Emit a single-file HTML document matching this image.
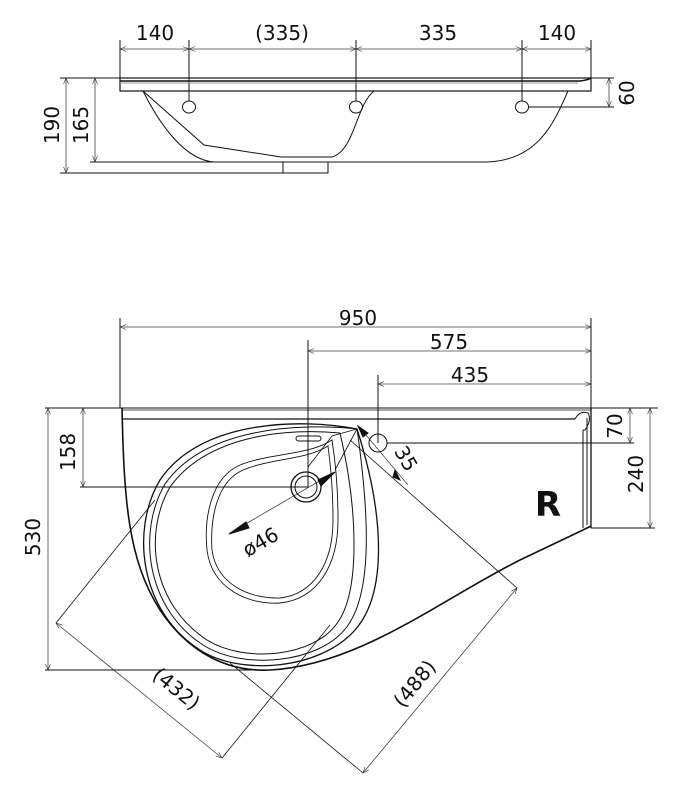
<!DOCTYPE html>
<html><head><meta charset="utf-8"><style>
html,body{margin:0;padding:0;background:#fff}
svg{display:block}
text{font-family:"DejaVu Sans","Liberation Sans",sans-serif;fill:#111}
</style></head><body>
<svg width="677" height="800" viewBox="0 0 677 800" xmlns="http://www.w3.org/2000/svg">
<defs>
<marker id="a" viewBox="0 0 10 10" refX="10" refY="5" markerWidth="8" markerHeight="6" orient="auto-start-reverse" markerUnits="userSpaceOnUse">
<path d="M0,1 L10,5 L0,9" fill="none" stroke="#333" stroke-width="1"/></marker>
</defs>
<g fill="none" stroke="#111" stroke-width="1">
<line x1="120" y1="40" x2="120" y2="91"/>
<line x1="189" y1="40" x2="189" y2="101"/>
<line x1="356" y1="40" x2="356" y2="101"/>
<line x1="522" y1="40" x2="522" y2="101"/>
<line x1="591" y1="40" x2="591" y2="91"/>
<g stroke="#444" stroke-width="0.8">
<line x1="120" y1="49" x2="189" y2="49" marker-start="url(#a)" marker-end="url(#a)"/>
<line x1="189" y1="49" x2="356" y2="49" marker-start="url(#a)" marker-end="url(#a)"/>
<line x1="356" y1="49" x2="522" y2="49" marker-start="url(#a)" marker-end="url(#a)"/>
<line x1="522" y1="49" x2="591" y2="49" marker-start="url(#a)" marker-end="url(#a)"/>
<line x1="66" y1="78" x2="66" y2="173" marker-start="url(#a)" marker-end="url(#a)"/>
<line x1="95" y1="78" x2="95" y2="162" marker-start="url(#a)" marker-end="url(#a)"/>
<line x1="609" y1="78" x2="609" y2="107" marker-start="url(#a)" marker-end="url(#a)"/>
</g>
<line x1="60" y1="78" x2="120" y2="78"/>
<line x1="591" y1="78" x2="614" y2="78"/>
<rect x="120" y="78" width="471" height="13" stroke-width="1.2"/>
<path d="M120,81 L580,81 Q588,80 591,78" stroke-width="1.5"/>
<path d="M120,83 L578,83" stroke="#999"/>
<line x1="90" y1="162" x2="283" y2="162"/>
<line x1="328" y1="162" x2="487" y2="162"/>
<line x1="60" y1="173" x2="283" y2="173"/>
<rect x="283" y="162" width="45" height="11"/>
<path d="M143,91 C160,125 185,160 214,162"/>
<path d="M143,91 L204,145 L281,157 L332,157 C355,150 356,105 374,91"/>
<path d="M487,162 C540,160 555,120 568,91"/>
<ellipse cx="189" cy="107" rx="6.5" ry="6"/>
<ellipse cx="356" cy="107" rx="6.5" ry="6"/>
<ellipse cx="522" cy="107" rx="6.5" ry="6"/>
<line x1="528" y1="107" x2="614" y2="107"/>

<line x1="120" y1="318" x2="120" y2="408"/>
<line x1="308" y1="340" x2="308" y2="487"/>
<line x1="378" y1="375" x2="378" y2="443"/>
<line x1="591" y1="318" x2="591" y2="408"/>
<g stroke="#444" stroke-width="0.8">
<line x1="120" y1="327" x2="591" y2="327" marker-start="url(#a)" marker-end="url(#a)"/>
<line x1="308" y1="351" x2="591" y2="351" marker-start="url(#a)" marker-end="url(#a)"/>
<line x1="378" y1="384" x2="591" y2="384" marker-start="url(#a)" marker-end="url(#a)"/>
<line x1="48" y1="408" x2="48" y2="670" marker-start="url(#a)" marker-end="url(#a)"/>
<line x1="83" y1="408" x2="83" y2="487" marker-start="url(#a)" marker-end="url(#a)"/>
<line x1="630" y1="408" x2="630" y2="443" marker-start="url(#a)" marker-end="url(#a)"/>
<line x1="650" y1="408" x2="650" y2="528" marker-start="url(#a)" marker-end="url(#a)"/>
<line x1="56" y1="623" x2="222" y2="758" marker-start="url(#a)" marker-end="url(#a)"/>
<line x1="363" y1="773" x2="517" y2="588" marker-start="url(#a)" marker-end="url(#a)"/>
<line x1="230" y1="533" x2="335" y2="472"/>
<line x1="360" y1="428" x2="408" y2="485"/>
</g>
<line x1="45" y1="408" x2="658" y2="408"/>
<line x1="80" y1="487" x2="308" y2="487"/>
<line x1="45" y1="670" x2="270" y2="670"/>
<line x1="387" y1="443" x2="634" y2="443"/>
<line x1="591" y1="528" x2="655" y2="528"/>
<line x1="56" y1="623" x2="155" y2="500" stroke-width="0.8"/>
<line x1="222" y1="758" x2="330" y2="625" stroke-width="0.8"/>
<line x1="363" y1="773" x2="230" y2="663" stroke-width="0.8"/>
<line x1="517" y1="588" x2="350" y2="440" stroke-width="0.8"/>
<path d="M229,534 L246,522 L249,528 Z" fill="#111"/>
<path d="M335,472 L318,480 L321,486 Z" fill="#111"/>
<path d="M358,426 L368,433 L363,437 Z" fill="#111"/>
<path d="M395,470 L400,480 L393,477 Z" fill="#111"/>
<line x1="122" y1="419" x2="575" y2="419" stroke-width="1.3"/>
<line x1="122" y1="410" x2="591" y2="410" stroke-width="0.8"/>
<path d="M575,419 Q580,410 588,413 Q592,420 585,430 L583,430" stroke-width="1"/>
<line x1="583" y1="430" x2="583" y2="528"/>
<line x1="587" y1="418" x2="587" y2="525"/>
<line x1="591" y1="408" x2="591" y2="528" stroke-width="1.3"/>
<path d="M122,408 C124,500 128,560 160,610 C190,655 230,672 270,670 C360,665 440,600 520,560 L583,530 L591,526" stroke-width="1.6"/>
<path d="M357,429 C300,418 200,420 160,480 C130,530 140,612 200,650 C240,676 320,670 355,630 C386,595 386,520 357,429 Z" stroke-width="1.3"/>
<path d="M357,429 C300,423 205,427 165,484 C137,532 146,608 203,645 C242,670 318,664 346,628 C372,595 370,520 357,429"/>
<path d="M340,433 C290,428 208,434 170,487 C143,534 152,604 207,640 C244,663 314,658 338,622 C360,590 358,510 340,433"/>
<path d="M332,440 C310,455 270,453 240,465 C210,478 204,520 207,550 C212,590 250,605 280,603 C318,599 338,565 338,520 C338,490 336,465 332,440 Z" stroke-width="0.9"/>
<path d="M328,446 C306,460 272,458 243,470 C216,482 210,520 212,550 C217,586 252,599 280,598 C314,594 333,563 333,520 C333,492 331,468 328,446 Z" stroke-width="0.9"/>
<path d="M357,429 L332,436 L308,467 M357,429 L335,470" stroke-width="0.8"/>
<rect x="296" y="436" width="25" height="5" rx="2.5"/>
<circle cx="306" cy="487" r="15" stroke-width="1.3"/>
<circle cx="306" cy="487" r="11"/>
<circle cx="378" cy="443" r="9"/>
</g>
<g font-size="20">
<text x="155" y="40" text-anchor="middle">140</text>
<text x="282" y="40" text-anchor="middle">(335)</text>
<text x="438" y="40" text-anchor="middle">335</text>
<text x="557" y="40" text-anchor="middle">140</text>
<text transform="translate(59,125) rotate(-90)" text-anchor="middle">190</text>
<text transform="translate(88,125) rotate(-90)" text-anchor="middle">165</text>
<text transform="translate(634,93) rotate(-90)" text-anchor="middle">60</text>
<text x="358" y="325" text-anchor="middle">950</text>
<text x="449" y="349" text-anchor="middle">575</text>
<text x="470" y="382" text-anchor="middle">435</text>
<text transform="translate(40,537) rotate(-90)" text-anchor="middle">530</text>
<text transform="translate(75,452) rotate(-90)" text-anchor="middle">158</text>
<text transform="translate(622,426) rotate(-90)" text-anchor="middle">70</text>
<text transform="translate(643,474) rotate(-90)" text-anchor="middle">240</text>
<text transform="translate(400,462) rotate(60)" text-anchor="middle">35</text>
<text transform="translate(264,548) rotate(-30)" text-anchor="middle">ø46</text>
<text transform="translate(172,694) rotate(39)" text-anchor="middle">(432)</text>
<text transform="translate(420,688) rotate(-51)" text-anchor="middle">(488)</text>
</g>
<text x="548" y="516" font-size="34" font-weight="bold" text-anchor="middle" font-family="Liberation Sans">R</text>
</svg>
</body></html>
